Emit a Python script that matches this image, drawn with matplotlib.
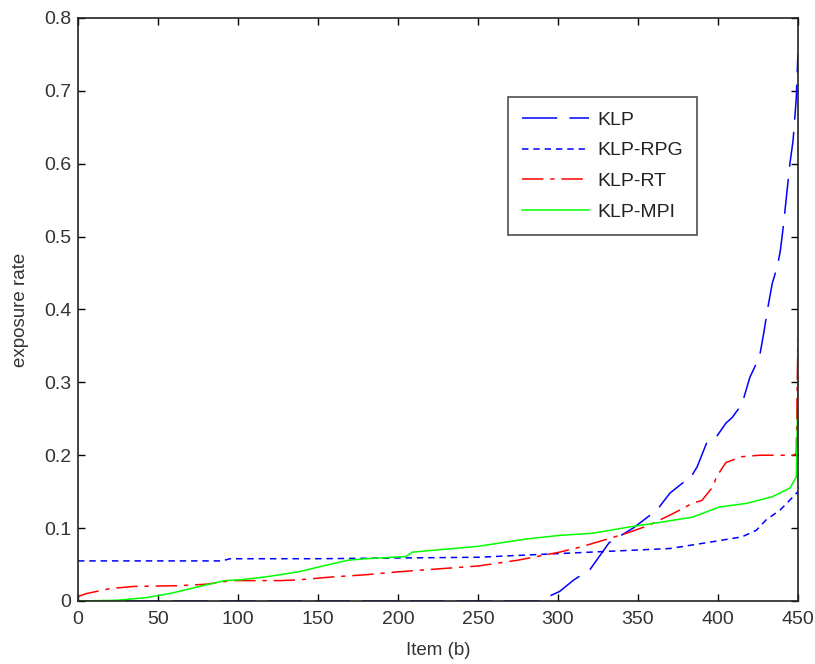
import matplotlib
matplotlib.use("Agg")
import matplotlib.pyplot as plt

plt.rcParams['font.family'] = ['Liberation Sans', 'DejaVu Sans']

klp_x = [0, 288, 292, 301, 310, 320, 332, 347, 362, 370, 378, 382, 387, 393, 399, 405,
         409, 415, 420, 426, 429, 431, 434, 437, 439, 441, 445, 447, 449, 450]
klp_y = [0, 0, 0.004, 0.013, 0.029, 0.043, 0.08, 0.1, 0.125, 0.148, 0.162, 0.166, 0.184,
         0.217, 0.225, 0.244, 0.252, 0.27, 0.307, 0.335, 0.372, 0.4, 0.436, 0.458, 0.48,
         0.516, 0.6, 0.632, 0.69, 0.75]

rpg_x = [0, 90, 95, 150, 200, 250, 300, 350, 370, 393, 415, 424, 430, 439, 447, 450]
rpg_y = [0.055, 0.055, 0.058, 0.058, 0.059, 0.06, 0.065, 0.07, 0.072, 0.08, 0.088, 0.097,
         0.111, 0.125, 0.143, 0.15]

rt_x = [0, 5, 20, 35, 63, 80, 96, 127, 138, 159, 180, 200, 225, 250, 275, 301, 314, 328,
        343, 357, 372, 384, 390, 397, 399, 405, 415, 426, 447, 449, 450]
rt_y = [0.006, 0.01, 0.017, 0.02, 0.021, 0.023, 0.028, 0.028, 0.029, 0.033, 0.036, 0.04,
        0.044, 0.048, 0.056, 0.067, 0.074, 0.083, 0.093, 0.104, 0.12, 0.134, 0.138, 0.157,
        0.17, 0.19, 0.198, 0.2, 0.2, 0.202, 0.36]

mpi_x = [0, 25, 44, 59, 76, 92, 101, 117, 138, 151, 169, 180, 205, 209, 250, 280, 301,
         322, 343, 364, 384, 401, 418, 434, 445, 449, 450, 450]
mpi_y = [0, 0.001, 0.005, 0.011, 0.02, 0.028, 0.029, 0.033, 0.04, 0.047, 0.056, 0.058,
         0.061, 0.067, 0.075, 0.085, 0.09, 0.093, 0.101, 0.108, 0.115, 0.129, 0.134, 0.143,
         0.155, 0.17, 0.28, 0.34]

labels = ['KLP', 'KLP-RPG', 'KLP-RT', 'KLP-MPI']
xticks = [0, 50, 100, 150, 200, 250, 300, 350, 400, 450]
yticks = [0, 0.1, 0.2, 0.3, 0.4, 0.5, 0.6, 0.7, 0.8]
yticklabels = ['0', '0.1', '0.2', '0.3', '0.4', '0.5', '0.6', '0.7', '0.8']

fig = plt.figure(figsize=(8.15, 6.64), dpi=100)
ax = fig.add_axes([0.0957, 0.0949, 0.8833, 0.8780])

ax.plot(klp_x, klp_y, color='#0000ff', lw=1.1, dashes=(23, 8), label=labels[0])
ax.plot(rpg_x, rpg_y, color='#0000ff', lw=1.1, dashes=(4.2, 3.2), label=labels[1])
ax.plot(rt_x, rt_y, color='#ff0000', lw=1.1, dashes=(14, 4.5, 2.8, 4.5), label=labels[2])
ax.plot(mpi_x, mpi_y, color='#00ff00', lw=1.1, label=labels[3])

ax.set_xlim(0, 450)
ax.set_ylim(0, 0.8)
ax.set_xticks(xticks)
ax.set_xticklabels([str(t) for t in xticks])
ax.set_yticks(yticks)
ax.set_yticklabels(yticklabels)
ax.tick_params(axis='both', direction='in', top=True, right=True, length=5, width=1,
               labelsize=14, labelcolor='#333333')
ax.tick_params(axis='y', pad=5)
ax.tick_params(axis='x', pad=7)
for s in ax.spines.values():
    s.set_linewidth(1.2)
    s.set_color('#222222')

ax.set_xlabel('Item (b)', fontsize=13.5, color='#333333')
ax.set_ylabel('exposure rate', fontsize=13.5, color='#333333')
ax.xaxis.set_label_coords(0.5, -0.07)
ax.yaxis.set_label_coords(-0.068, 0.5)

leg = ax.legend(loc='upper left', bbox_to_anchor=(0.597, 0.8645), fontsize=14,
                frameon=True, fancybox=False, edgecolor='#222222', handlelength=3.45,
                labelspacing=0.68, borderpad=0.72, handletextpad=0.45, borderaxespad=0)
leg.get_frame().set_linewidth(1.2)
for t in leg.get_texts():
    t.set_color('#222222')

fig.savefig('out.png', dpi=100)
